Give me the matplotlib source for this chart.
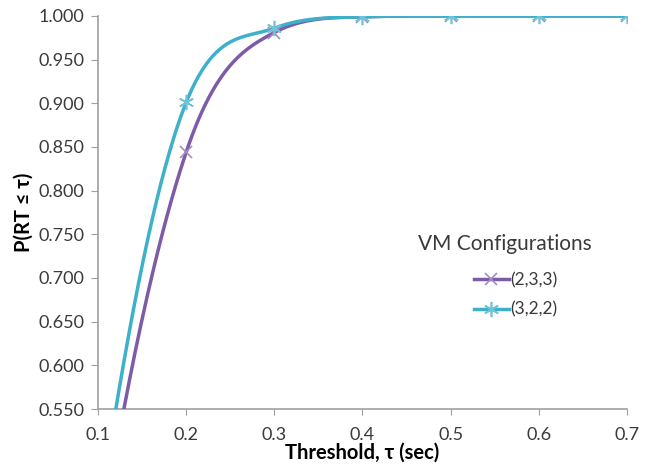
import numpy as np
import matplotlib.pyplot as plt
from matplotlib.ticker import FormatStrFormatter

plt.rcParams['font.family'] = ['Lato', 'DejaVu Sans']

threshold = [0.1, 0.2, 0.3, 0.4, 0.5, 0.6, 0.7]
p_233 = [0.38, 0.844, 0.981, 0.999, 1.000, 1.000, 1.000]
p_322 = [0.42, 0.901, 0.986, 0.999, 1.000, 1.000, 1.000]
labels = ['(2,3,3)', '(3,2,2)']


def smooth(x, y, n=60):
    # monotone cubic (Fritsch-Carlson) to get a smoothed line like excel's
    x = np.asarray(x, float)
    y = np.asarray(y, float)
    h = np.diff(x)
    d = np.diff(y) / h
    m = np.zeros_like(y)
    m[1:-1] = (d[:-1] + d[1:]) / 2
    m[0] = (3 * d[0] - d[1]) / 2
    m[-1] = d[-1]
    for k in range(len(d)):
        if d[k] == 0:
            m[k] = m[k + 1] = 0
            continue
        a = m[k] / d[k]
        b = m[k + 1] / d[k]
        s = a * a + b * b
        if s > 9:
            tau = 3 / np.sqrt(s)
            m[k] = tau * a * d[k]
            m[k + 1] = tau * b * d[k]
    xs, ys = [], []
    for k in range(len(d)):
        t = np.linspace(0, 1, n)
        h00 = 2 * t ** 3 - 3 * t ** 2 + 1
        h10 = t ** 3 - 2 * t ** 2 + t
        h01 = -2 * t ** 3 + 3 * t ** 2
        h11 = t ** 3 - t ** 2
        xs.append(x[k] + t * h[k])
        ys.append(h00 * y[k] + h10 * h[k] * m[k] + h01 * y[k + 1] + h11 * h[k] * m[k + 1])
    return np.concatenate(xs), np.concatenate(ys)


purple = '#7e5ba6'
cyan = '#3fb0c9'
purple_mk = '#a58cc4'
cyan_mk = '#6fc3d8'

fig = plt.figure(figsize=(6.47, 4.68), dpi=100)
ax = fig.add_axes([0.1515, 0.126, 0.8175, 0.84])

sx, sy = smooth(threshold, p_233)
ax.plot(sx, sy, color=purple, lw=2.5, zorder=3)
ax.plot(threshold, p_233, ls='none', marker='x', ms=9, mew=1.2, color=purple_mk, zorder=4)
sx, sy = smooth(threshold, p_322)
ax.plot(sx, sy, color=cyan, lw=2.5, zorder=3)
ax.plot(threshold, p_322, ls='none', marker=(6, 2, 0), ms=11, mew=1.2, color=cyan_mk, zorder=4)

# legend proxies
h1, = ax.plot([], [], color=purple, lw=2.5, marker='x', ms=9, mew=1.2, mec=purple_mk)
h2, = ax.plot([], [], color=cyan, lw=2.5, marker=(6, 2, 0), ms=11, mew=1.2, mec=cyan_mk)
leg = ax.legend([h1, h2], labels, frameon=False,
                loc='center', bbox_to_anchor=(0.79, 0.29), fontsize=12.5,
                handlelength=2.0, handletextpad=0.1, labelspacing=0.75)
for txt in leg.get_texts():
    txt.set_color('#3a3a3a')
ax.text(0.77, 0.42, 'VM Configurations', transform=ax.transAxes, fontsize=15,
        color='#3a3a3a', ha='center', va='center')

ax.set_xlim(0.1, 0.7)
ax.set_ylim(0.55, 1.0)
ax.set_xticks(np.arange(0.1, 0.71, 0.1))
ax.set_yticks(np.arange(0.55, 1.001, 0.05))
ax.xaxis.set_major_formatter(FormatStrFormatter('%.1f'))
ax.yaxis.set_major_formatter(FormatStrFormatter('%.3f'))
ax.tick_params(labelsize=13, colors='#3a3a3a', length=5, color='#a0a0a0')
ax.tick_params(axis='x', pad=9, length=4)
ax.tick_params(axis='y', pad=5)

for s in ['top', 'right']:
    ax.spines[s].set_visible(False)
for s in ['left', 'bottom']:
    ax.spines[s].set_color('#a0a0a0')
    ax.spines[s].set_linewidth(1.2)

ax.set_xlabel('Threshold, τ (sec)', fontsize=14.5, fontweight='bold', labelpad=0)
ax.set_ylabel('P(RT ≤ τ)', fontsize=14.5, fontweight='bold', labelpad=3)

fig.savefig('out.png', dpi=100)
